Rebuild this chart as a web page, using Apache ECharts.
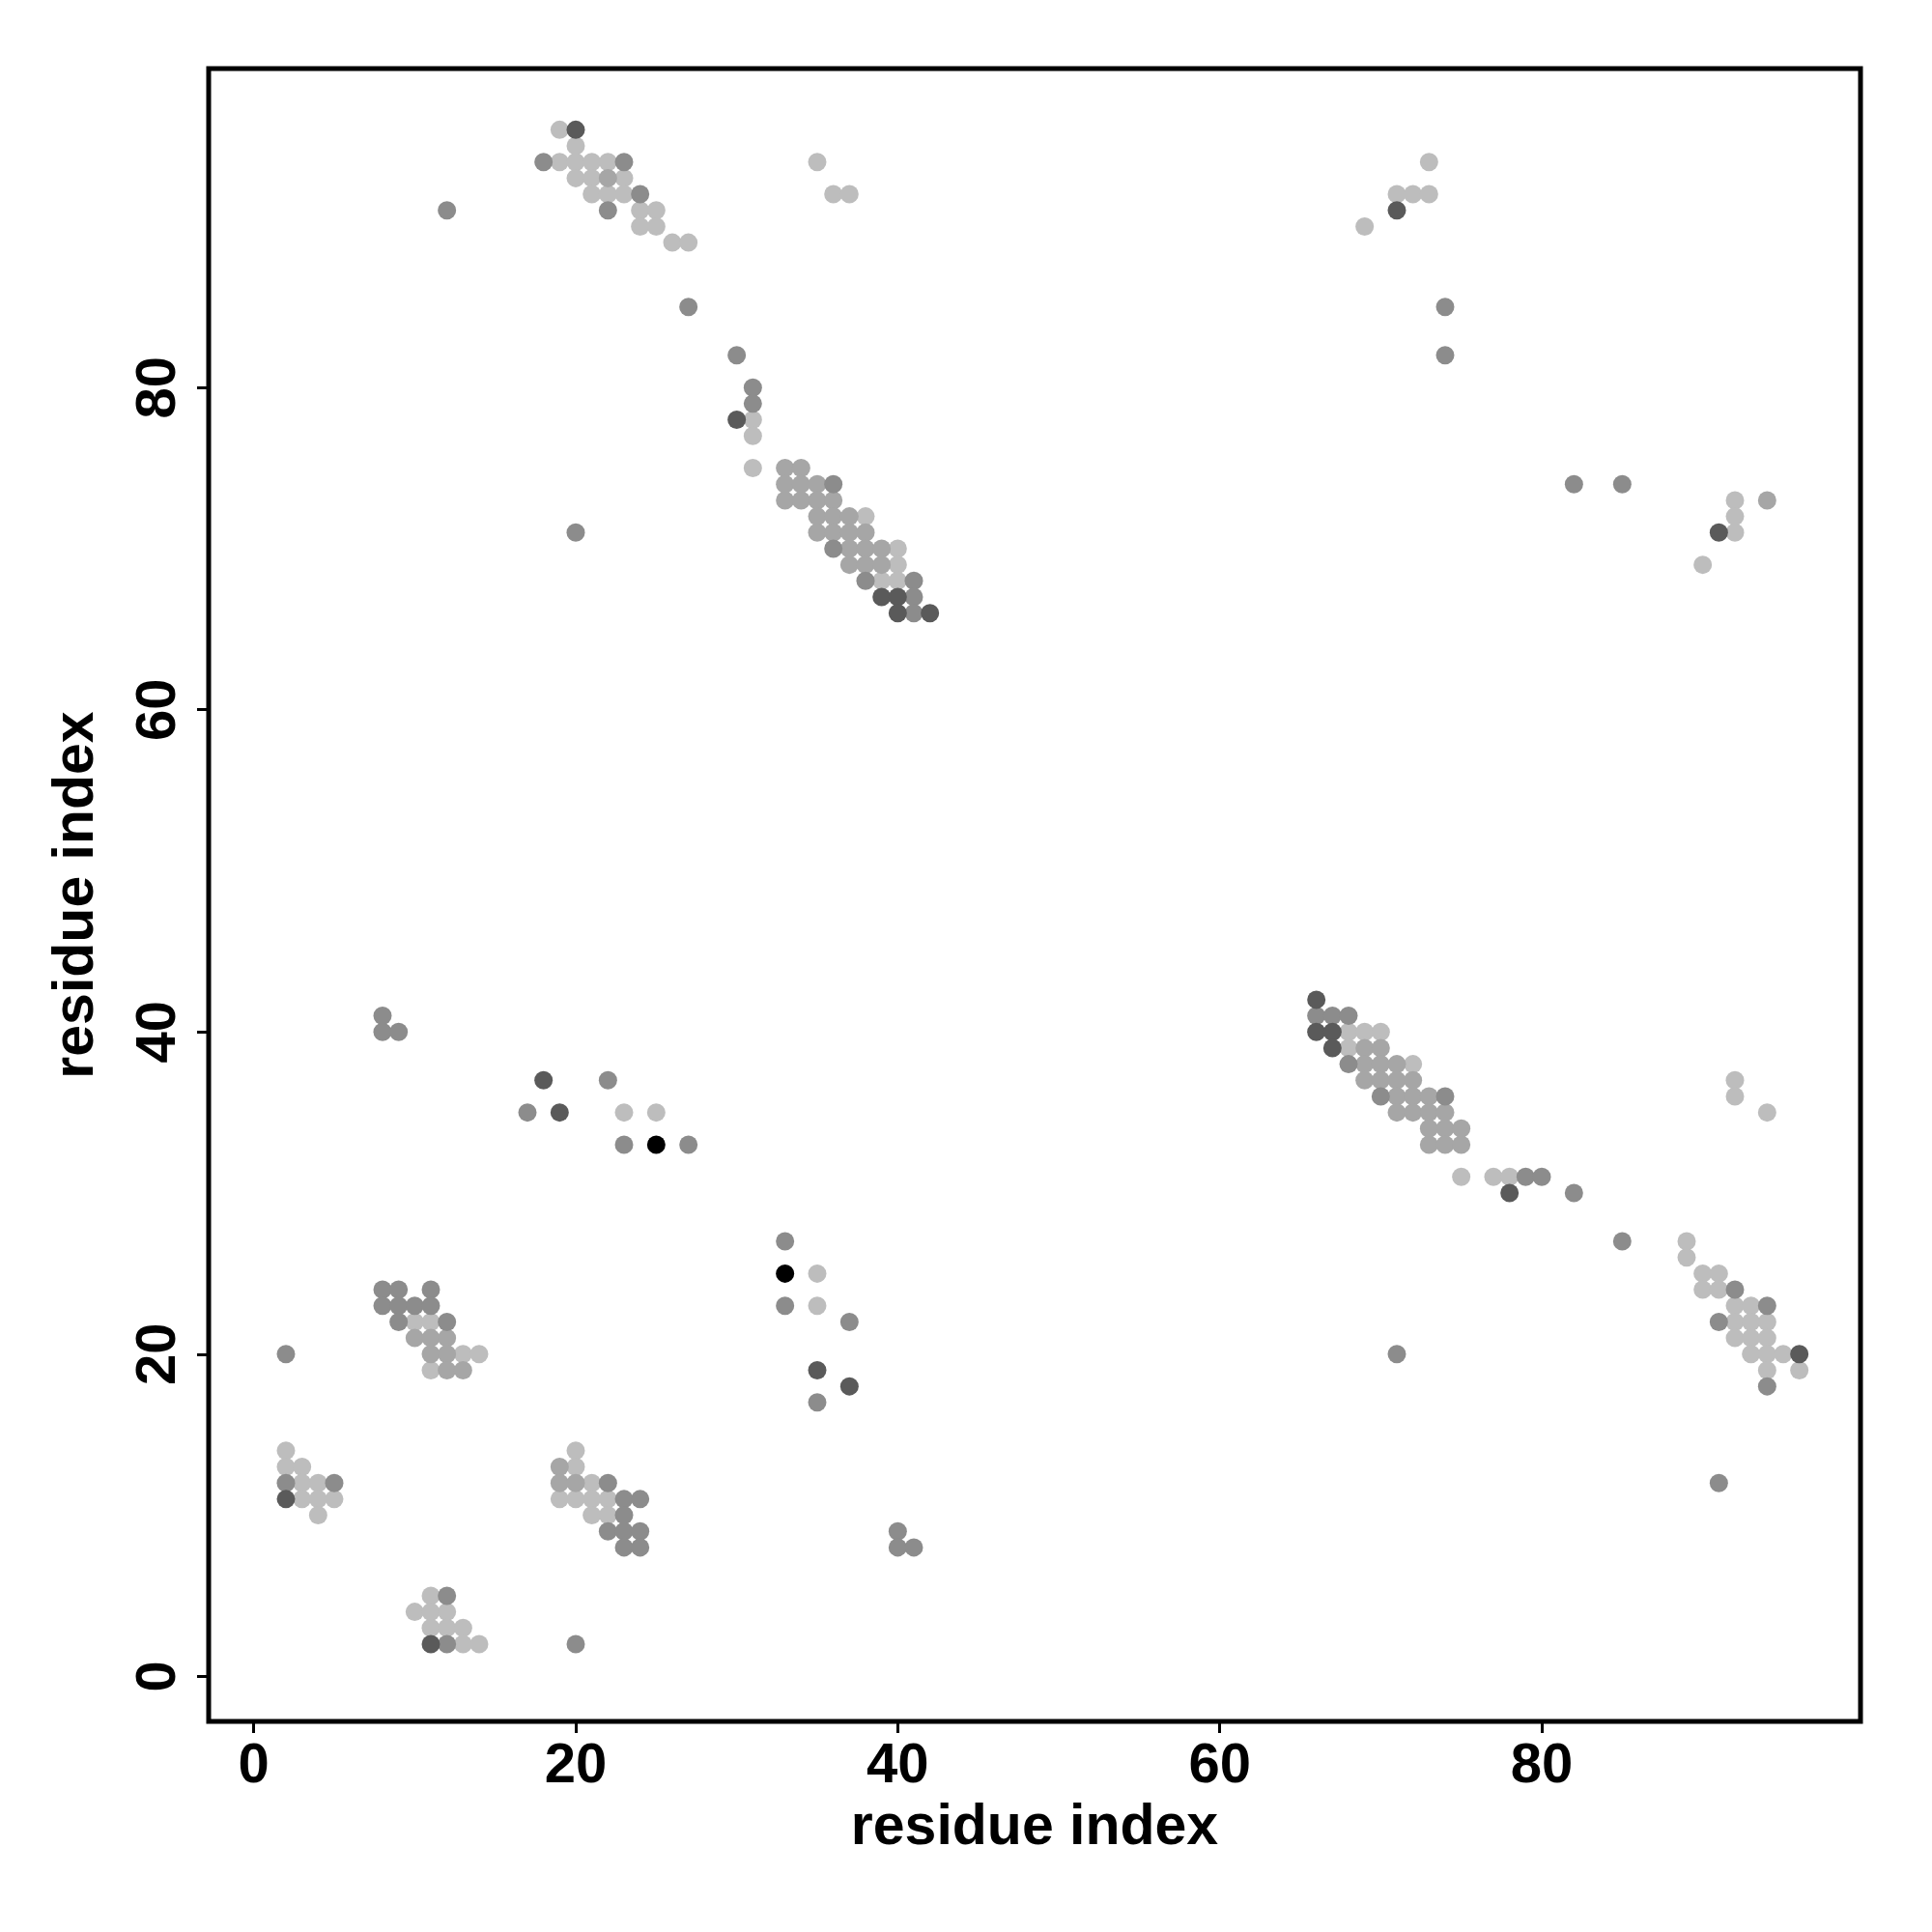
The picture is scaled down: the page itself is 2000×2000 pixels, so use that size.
<!DOCTYPE html>
<html>
<head>
<meta charset="utf-8">
<script src="https://cdn.jsdelivr.net/npm/echarts@6/dist/echarts.min.js"></script>
<style>html,body{margin:0;padding:0;background:#fff}#c{width:2000px;height:2000px}</style>
</head>
<body>
<div id="c"></div>
<script>
// Contact map points, grouped by gray shade: [residue i, residue j]
const lightPts = [[19,96],[20,95],[19,94],[20,94],[21,94],[22,94],[20,93],[21,93],[23,93],[21,92],[22,92],[23,92],[24,91],[25,91],[24,90],[25,90],[26,89],[27,89],
[35,94],[36,92],[37,92],[31,78],[31,77],[31,75],[38,72],[40,70],[40,69],[39,68],[40,68],
[73,94],[71,92],[72,92],[73,92],[69,90],[92,73],[92,72],[92,71],[90,69],
[68,40],[69,40],[70,40],[68,39],[72,38],[75,31],[77,31],[78,31],
[89,27],[89,26],[90,25],[91,25],[90,24],[91,24],[92,23],[93,23],[92,22],[93,22],[94,22],[92,21],[93,21],[94,21],[93,20],[94,20],[95,20],[94,19],[96,19],
[92,37],[92,36],[94,35],[23,35],[25,35],[35,25],[35,23],
[10,22],[11,22],[13,20],[14,20],[11,19],
[2,14],[2,13],[3,13],[3,12],[4,12],[3,11],[4,11],[5,11],[4,10],
[20,14],[20,13],[21,12],[19,11],[20,11],[21,11],[22,11],[21,10],[22,10],
[11,5],[10,4],[11,4],[12,4],[11,3],[12,3],[13,3],[13,2],[14,2]];
const lightMidPts = [[22,93],
[33,75],[34,75],[33,74],[34,74],[35,74],[33,73],[34,73],[35,73],[36,73],[35,72],[36,72],[37,72],[35,71],[36,71],[37,71],[38,71],[37,70],[38,70],[39,70],[37,69],[38,69],[39,69],
[94,73],
[69,39],[70,39],[69,38],[70,38],[71,38],[69,37],[70,37],[71,37],[72,37],[71,36],[72,36],[73,36],[71,35],[72,35],[73,35],[74,35],[73,34],[74,34],[75,34],[73,33],[74,33],[75,33],
[10,21],[11,21],[12,21],[11,20],[12,20],[12,19],[13,19],
[19,13],[19,12],[20,12]];
const mediumPts = [[18,94],[23,94],[24,92],[22,91],[12,91],[27,85],[20,71],
[30,82],[31,80],[31,79],[36,74],[36,70],[38,68],[41,68],[41,67],[41,66],
[74,85],[74,82],[82,74],[85,74],
[66,41],[67,41],[68,41],[68,38],[70,36],[74,36],
[79,31],[80,31],[82,30],[85,27],[92,24],[94,23],[91,22],[94,18],[91,12],[71,20],
[8,41],[8,40],[9,40],
[8,24],[9,24],[11,24],[8,23],[9,23],[10,23],[11,23],[9,22],[12,22],
[2,20],[2,12],[5,12],
[22,12],[23,11],[24,11],[23,10],[22,9],[23,9],[24,9],[23,8],[24,8],
[12,5],[12,2],[20,2],
[22,37],[17,35],[23,33],[27,33],
[33,27],[33,23],[37,22],[35,17],
[40,9],[40,8],[41,8]];
const darkPts = [[20,96],[30,78],[39,67],[40,67],[40,66],[42,66],[71,91],[91,71],
[66,42],[66,40],[67,40],[67,39],[78,30],[96,20],
[18,37],[19,35],[35,19],[37,18],[2,11],[11,2]];
const blackPts = [[25,33],[33,25]];
const tickLabels = [0,20,40,60,80];

const shades = [
  {data: lightPts, color: '#bdbdbd'},
  {data: lightMidPts, color: '#a6a6a6'},
  {data: mediumPts, color: '#8c8c8c'},
  {data: darkPts, color: '#5a5a5a'},
  {data: blackPts, color: '#000000'}
];

const font = 'Liberation Sans, Arial, Helvetica, sans-serif';
const chart = echarts.init(document.getElementById('c'));
chart.setOption({
  animation: false,
  backgroundColor: '#ffffff',
  grid: {left: 216, right: 74, top: 71, bottom: 218, show: true, borderColor: '#000', borderWidth: 5, backgroundColor: 'transparent'},
  xAxis: {
    type: 'value', min: -2.8, max: 99.8,
    name: 'residue index', nameLocation: 'middle', nameGap: 78,
    nameTextStyle: {fontFamily: font, fontWeight: 'bold', fontSize: 59, color: '#000'},
    axisLine: {show: false, onZero: false},
    splitLine: {show: false},
    axisTick: {show: true, length: 12, lineStyle: {color: '#000', width: 3}, customValues: tickLabels},
    axisLabel: {fontFamily: font, fontWeight: 'bold', fontSize: 58, color: '#000', margin: 18, customValues: tickLabels}
  },
  yAxis: {
    type: 'value', min: -2.8, max: 99.8,
    name: 'residue index', nameLocation: 'middle', nameGap: 107, nameRotate: 90,
    nameTextStyle: {fontFamily: font, fontWeight: 'bold', fontSize: 59, color: '#000'},
    axisLine: {show: false, onZero: false},
    splitLine: {show: false},
    axisTick: {show: true, length: 12, lineStyle: {color: '#000', width: 3}, customValues: tickLabels},
    axisLabel: {fontFamily: font, fontWeight: 'bold', fontSize: 58, color: '#000', margin: 22, rotate: 90, customValues: tickLabels}
  },
  series: shades.map(s => ({
    type: 'scatter', data: s.data, symbol: 'circle', symbolSize: 19,
    itemStyle: {color: s.color, opacity: 1},
    emphasis: {disabled: true}
  }))
});
</script>
</body>
</html>
